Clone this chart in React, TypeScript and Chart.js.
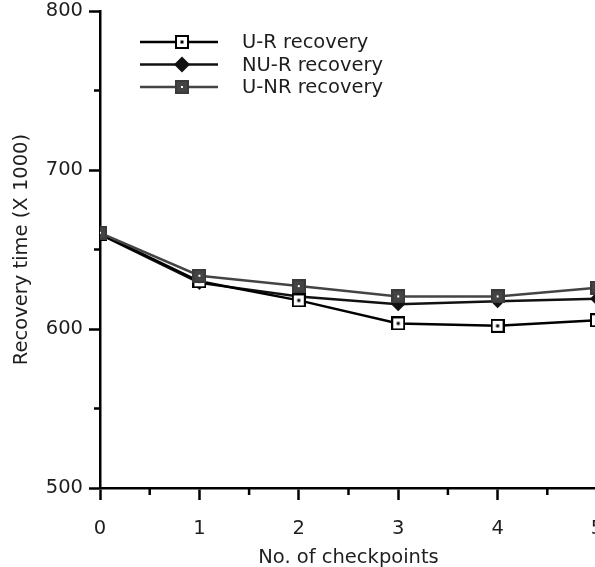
import React, { useEffect, useRef } from "react";
import { Chart, registerables } from "chart.js";

Chart.register(...registerables);

// Number of checkpoints on the x axis
const checkpoints = [0, 1, 2, 3, 4, 5];

// Recovery time (x 1000) per series
const uRecovery = [660, 630, 618, 603.5, 602, 605.5];
const nuRecovery = [659.5, 629, 620.5, 615.5, 617.5, 619];
const unrRecovery = [660.5, 633.5, 627, 620.5, 620.5, 626];

const seriesNames = ["U-R recovery", "NU-R recovery", "U-NR recovery"];

const yTicks = [500, 600, 700, 800];
const xTicks = [0, 1, 2, 3, 4, 5];

const FONT = "'DejaVu Sans', sans-serif";
const SIZE = 19.5;
const TEXT = "#1e1e1e";

function squareMarker(fill: string, border: string, dot: string, dotSize: number) {
  const s = 14;
  const c = document.createElement("canvas");
  c.width = s;
  c.height = s;
  const g = c.getContext("2d")!;
  g.fillStyle = border;
  g.fillRect(0, 0, s, s);
  g.fillStyle = fill;
  g.fillRect(2, 2, s - 4, s - 4);
  g.fillStyle = dot;
  const o = (s - dotSize) / 2;
  g.fillRect(o, o, dotSize, dotSize);
  return c;
}

export default function App() {
  const ref = useRef<HTMLCanvasElement | null>(null);

  useEffect(() => {
    const canvas = ref.current;
    if (!canvas) return;

    const openSquare = squareMarker("#fff", "#000", "#000", 3);
    const greySquare = squareMarker("#444", "#3a3a3a", "#fff", 2);

    const toPoints = (vals: number[]) => vals.map((y, i) => ({ x: checkpoints[i], y }));

    // minor tick marks at the half steps on both axes
    const minorTicks = {
      id: "minorTicks",
      afterDraw(chart: any) {
        const ctx = chart.ctx;
        const xs = chart.scales.x;
        const ys = chart.scales.y;
        ctx.save();
        ctx.strokeStyle = "#000";
        ctx.lineWidth = 2.5;
        for (let v = 0.5; v < 5; v += 1) {
          const px = xs.getPixelForValue(v);
          ctx.beginPath();
          ctx.moveTo(px, ys.bottom);
          ctx.lineTo(px, ys.bottom + 7);
          ctx.stroke();
        }
        for (let v = 550; v < 800; v += 100) {
          const py = ys.getPixelForValue(v);
          ctx.beginPath();
          ctx.moveTo(xs.left, py);
          ctx.lineTo(xs.left - 6, py);
          ctx.stroke();
        }
        ctx.restore();
      },
    };

    // legend: line with its marker in the middle, label to the right
    const inlineLegend = {
      id: "inlineLegend",
      afterDraw(chart: any) {
        const ctx = chart.ctx;
        ctx.save();
        chart.data.datasets.forEach((ds: any, i: number) => {
          const y = 42 + i * 22.5;
          ctx.strokeStyle = ds.borderColor;
          ctx.lineWidth = ds.borderWidth;
          ctx.beginPath();
          ctx.moveTo(140, y);
          ctx.lineTo(218, y);
          ctx.stroke();
          const ps = ds.pointStyle;
          if (ps instanceof HTMLCanvasElement) {
            ctx.drawImage(ps, 182 - ps.width / 2, y - ps.height / 2);
          } else {
            ctx.fillStyle = ds.pointBackgroundColor;
            ctx.beginPath();
            ctx.moveTo(182, y - 8);
            ctx.lineTo(190, y);
            ctx.lineTo(182, y + 8);
            ctx.lineTo(174, y);
            ctx.closePath();
            ctx.fill();
          }
          ctx.fillStyle = TEXT;
          ctx.font = `${SIZE}px ${FONT}`;
          ctx.textAlign = "left";
          ctx.textBaseline = "middle";
          ctx.fillText(seriesNames[i], 242, y + 1);
        });
        ctx.restore();
      },
    };

    const chart = new Chart(canvas, {
      type: "line",
      data: {
        datasets: [
          {
            label: seriesNames[0],
            data: toPoints(uRecovery),
            borderColor: "#000",
            borderWidth: 2.5,
            pointStyle: openSquare,
            order: 1,
          },
          {
            label: seriesNames[1],
            data: toPoints(nuRecovery),
            borderColor: "#111",
            borderWidth: 2.5,
            pointStyle: "rectRot",
            pointRadius: 7,
            pointBackgroundColor: "#111",
            pointBorderColor: "#111",
            pointBorderWidth: 0,
            order: 2,
          },
          {
            label: seriesNames[2],
            data: toPoints(unrRecovery),
            borderColor: "#444",
            borderWidth: 2.5,
            pointStyle: greySquare,
            order: 0,
          },
        ],
      },
      options: {
        animation: false,
        responsive: false,
        devicePixelRatio: 1,
        layout: { padding: { top: 11, right: 23, left: 0, bottom: 0 } },
        plugins: { legend: { display: false }, tooltip: { enabled: false } },
        elements: { line: { tension: 0 } },
        scales: {
          x: {
            type: "linear",
            min: 0,
            max: 5,
            afterBuildTicks: (scale: any) => {
              scale.ticks = xTicks.map((v) => ({ value: v }));
            },
            ticks: {
              autoSkip: false,
              maxRotation: 0,
              color: TEXT,
              font: { family: FONT, size: SIZE },
              padding: 17,
              callback: (v: any) => String(v),
            },
            grid: {
              drawOnChartArea: false,
              drawTicks: true,
              tickLength: 12,
              tickWidth: 2.5,
              tickColor: "#000",
            },
            border: { color: "#000", width: 2.5 },
            title: {
              display: true,
              text: "No. of checkpoints",
              color: TEXT,
              font: { family: FONT, size: SIZE },
              padding: { top: 0, bottom: -3 },
            },
            afterFit: (scale: any) => {
              scale.height = 79;
              scale.paddingLeft = 0;
              scale.paddingRight = 0;
            },
          },
          y: {
            min: 500,
            max: 800,
            afterBuildTicks: (scale: any) => {
              scale.ticks = yTicks.map((v) => ({ value: v }));
            },
            ticks: {
              color: TEXT,
              font: { family: FONT, size: SIZE },
              padding: 6,
              callback: (v: any) => String(v),
            },
            grid: {
              drawOnChartArea: false,
              drawTicks: true,
              tickLength: 11,
              tickWidth: 2.5,
              tickColor: "#000",
            },
            border: { color: "#000", width: 2.5 },
            title: {
              display: true,
              text: "Recovery time (X 1000)",
              color: TEXT,
              font: { family: FONT, size: SIZE },
              padding: { top: 10, bottom: 0 },
            },
            afterFit: (scale: any) => {
              scale.width = 100;
              scale.paddingTop = 0;
              scale.paddingBottom = 0;
            },
          },
        },
      },
      plugins: [minorTicks, inlineLegend],
    } as any);

    return () => chart.destroy();
  }, []);

  return (
    <div
      style={{
        position: "fixed",
        left: 0,
        top: 0,
        width: 595,
        height: 567,
        overflow: "hidden",
        background: "#fff",
      }}
    >
      <canvas ref={ref} width={620} height={567} style={{ display: "block" }} />
    </div>
  );
}
